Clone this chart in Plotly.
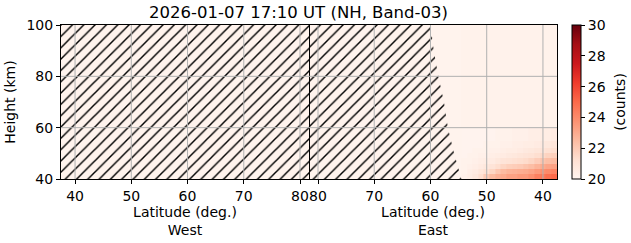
import plotly.graph_objects as go
from plotly.subplots import make_subplots
import plotly.express as px

title = "2026-01-07 17:10 UT (NH, Band-03)"
lat_ticks = [40, 50, 60, 70, 80]
height_ticks = [40, 60, 80, 100]
lat_range = [37.5, 81.6]
height_range = [40, 100]

# East-side heatmap bins (edges)
east_lat_edges = [37.5, 38.5, 39.5, 40.5, 41.5, 42.5, 43.5, 44.5, 45.5, 46.5,
                  47.5, 48.5, 49.5, 50.5, 51.5, 52.5, 53.5, 54.5]
east_height_edges = [40, 42, 44, 46, 48, 50, 52, 55, 60, 100]
# counts per height row (bottom to top), per latitude bin (38 ... 54)
east_counts = [
    [25.0, 24.8, 24.5, 24.3, 23.8, 23.5, 23.5, 23.3, 23.3, 23.0, 22.8, 22.5, 22.0, 21.3, 20.8, 20.5, 20.3],
    [24.2, 24.0, 23.8, 23.5, 23.2, 23.0, 22.9, 22.8, 22.7, 22.5, 22.1, 21.6, 21.2, 20.9, 20.6, 20.4, 20.2],
    [23.3, 23.2, 23.0, 22.7, 22.4, 22.2, 22.0, 21.9, 21.8, 21.6, 21.3, 21.0, 20.8, 20.6, 20.4, 20.3, 20.2],
    [22.5, 22.4, 22.2, 21.9, 21.6, 21.4, 21.3, 21.2, 21.1, 21.0, 20.8, 20.6, 20.5, 20.4, 20.3, 20.2, 20.2],
    [21.8, 21.7, 21.5, 21.3, 21.1, 21.0, 20.9, 20.8, 20.7, 20.6, 20.5, 20.4, 20.3, 20.3, 20.2, 20.2, 20.1],
    [21.3, 21.2, 21.0, 20.9, 20.8, 20.7, 20.6, 20.5, 20.5, 20.4, 20.3, 20.3, 20.2, 20.2, 20.2, 20.1, 20.1],
    [20.9, 20.8, 20.7, 20.6, 20.5, 20.5, 20.4, 20.4, 20.3, 20.3, 20.2, 20.2, 20.2, 20.1, 20.1, 20.1, 20.1],
    [20.6, 20.5, 20.5, 20.4, 20.4, 20.3, 20.3, 20.3, 20.2, 20.2, 20.2, 20.1, 20.1, 20.1, 20.1, 20.1, 20.1],
    [20.2, 20.2, 20.2, 20.2, 20.2, 20.2, 20.2, 20.2, 20.2, 20.2, 20.2, 20.2, 20.2, 20.2, 20.2, 20.2, 20.2],
]
# no-data (hatched) boundary on the East side
east_nodata_heights = [40, 50, 60, 70, 80, 90, 100]
east_nodata_lats = [54.5, 55.8, 56.9, 57.6, 58.6, 59.4, 60.0]

cbar_ticks = [20, 22, 24, 26, 28, 30]
cbar_title = "(counts)"
reds = px.colors.sequential.Reds

FONT = "DejaVu Sans"
W, H = 631, 243
L, R, T, B = 61, 0, 25, 64
PW = W - L - R
MID_PX, RIGHT_PX = 309, 557   # panel split and right edge of plot frame (px)

fig = make_subplots(rows=1, cols=2, shared_yaxes=True, horizontal_spacing=0)

fig.add_trace(go.Heatmap(
    x=east_lat_edges, y=east_height_edges, z=east_counts,
    colorscale=reds, zmin=20, zmax=30,
    colorbar=dict(
        x=(572 - L) / PW, xanchor="left", xref="paper", xpad=0,
        y=0.5, yanchor="middle", len=1, lenmode="fraction", ypad=0,
        thickness=9, outlinecolor="black", outlinewidth=1,
        tickvals=cbar_ticks, ticks="outside", ticklen=4, tickcolor="black",
        tickfont=dict(family=FONT, size=14, color="black"),
    ),
    hoverinfo="skip",
), row=1, col=2)

pattern = dict(shape="/", fgcolor="black", bgcolor="rgba(0,0,0,0)",
               size=8, solidity=0.18, fillmode="replace")

# West: fully hatched
wx = [lat_range[0], lat_range[1], lat_range[1], lat_range[0], lat_range[0]]
wy = [height_range[0], height_range[0], height_range[1], height_range[1], height_range[0]]
fig.add_trace(go.Scatter(x=wx, y=wy, mode="lines", line=dict(width=0),
                         fill="toself", fillcolor="rgba(0,0,0,0)",
                         fillpattern=pattern, showlegend=False, hoverinfo="skip"),
              row=1, col=1)

# East: hatched where no data
ex = [lat_range[1], lat_range[1]] + east_nodata_lats[::-1] + [lat_range[1]]
ey = [height_range[0], height_range[1]] + east_nodata_heights[::-1] + [height_range[0]]
fig.add_trace(go.Scatter(x=ex, y=ey, mode="lines", line=dict(width=0),
                         fill="toself", fillcolor="rgba(0,0,0,0)",
                         fillpattern=pattern, showlegend=False, hoverinfo="skip"),
              row=1, col=2)

# grid lines above traces
for xref, yref in [("x", "y"), ("x2", "y2")]:
    for v in lat_ticks:
        fig.add_shape(type="line", xref=xref, yref=yref + " domain", x0=v, x1=v, y0=0, y1=1,
                      line=dict(color="#b0b0b0", width=1), layer="above")
    for v in height_ticks[1:-1]:
        fig.add_shape(type="line", xref=xref + " domain", yref=yref, x0=0, x1=1, y0=v, y1=v,
                      line=dict(color="#b0b0b0", width=1), layer="above")

tickfont = dict(family=FONT, size=14, color="black")
fig.update_xaxes(showgrid=False, zeroline=False, showline=True, linecolor="black",
                 linewidth=1, mirror=True, ticks="outside", ticklen=4, tickcolor="black",
                 tickfont=tickfont, layer="above traces", tickvals=lat_ticks)
fig.update_xaxes(range=lat_range, row=1, col=1, domain=[0, (MID_PX - L) / PW],
                 title=dict(text="Latitude (deg.)<br>West", standoff=2, font=tickfont))
fig.update_xaxes(range=lat_range[::-1], row=1, col=2,
                 domain=[(MID_PX - L) / PW, (RIGHT_PX - L) / PW],
                 title=dict(text="Latitude (deg.)<br>East", standoff=2, font=tickfont))
fig.update_yaxes(showgrid=False, zeroline=False, range=height_range, tickvals=height_ticks,
                 layer="above traces")
fig.update_yaxes(row=1, col=1, showline=True, linecolor="black", linewidth=1, mirror=True,
                 ticks="outside", ticklen=4, tickcolor="black", tickfont=tickfont,
                 title=dict(text="Height (km)", standoff=7, font=tickfont))
fig.update_yaxes(row=1, col=2, side="right", showline=True, linecolor="black", linewidth=1,
                 mirror=False, showticklabels=False, ticks="")

fig.add_annotation(text=cbar_title, textangle=-90, xref="paper", yref="paper",
                   x=(620 - L) / PW, y=0.5, xanchor="center", yanchor="middle",
                   width=70, height=18, align="center", valign="middle",
                   showarrow=False, font=tickfont)

fig.update_layout(
    width=W, height=H,
    margin=dict(l=L, r=R, t=T, b=B, pad=0, autoexpand=False),
    paper_bgcolor="white", plot_bgcolor="#fff3ed",
    font=dict(family=FONT, size=14, color="black"),
    showlegend=False,
    title=dict(text=title, x=(298.5 - L) / PW, xref="paper", xanchor="center",
               y=1 - 12 / H, yref="container", yanchor="middle",
               font=dict(family=FONT, size=16.5, color="black")),
)

fig.write_html("out.html")
